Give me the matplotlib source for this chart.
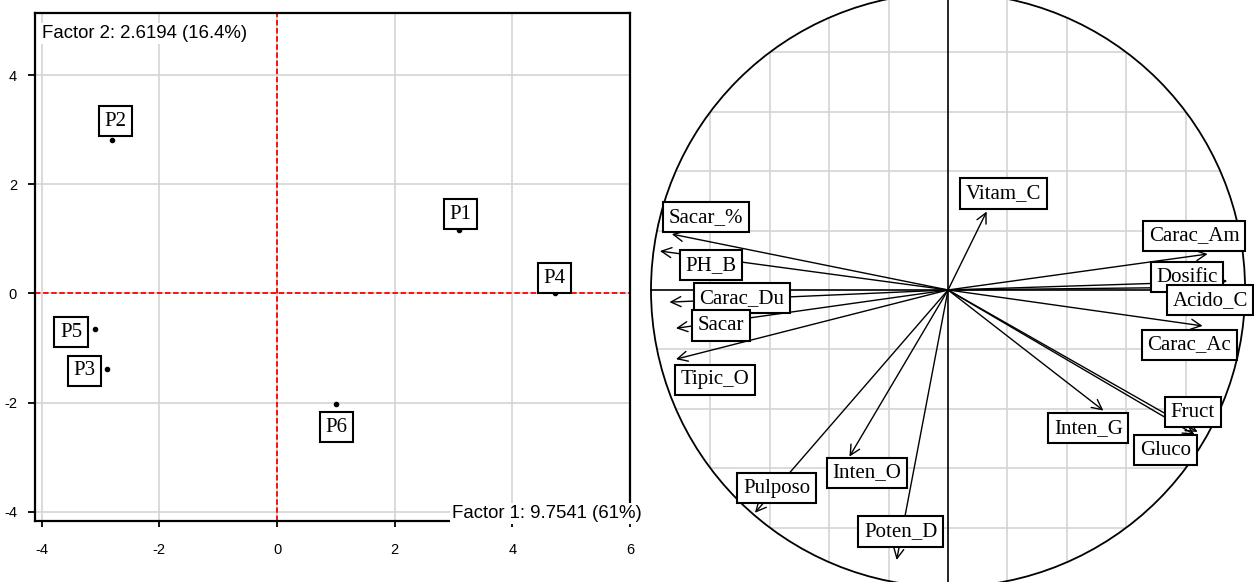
import matplotlib
matplotlib.use('Agg')
import matplotlib.pyplot as plt
import numpy as np
from matplotlib.patches import Circle

plt.rcParams['axes.unicode_minus'] = False

# factor scores of the products
products = ['P1', 'P2', 'P3', 'P4', 'P5', 'P6']
f1_scores = [3.10, -2.81, -2.89, 4.72, -3.10, 1.01]
f2_scores = [1.17, 2.81, -1.39, 0.01, -0.66, -2.02]

# correlations of the variables with factor 1 / factor 2
variables = ['Vitam_C', 'Sacar_%', 'PH_B', 'Carac_Du', 'Sacar', 'Tipic_O',
             'Carac_Am', 'Dosific', 'Acido_C', 'Carac_Ac', 'Inten_G',
             'Fruct', 'Gluco', 'Pulposo', 'Inten_O', 'Poten_D']
corr_f1 = [0.130, -0.930, -0.970, -0.938, -0.916, -0.916,
           0.874, 0.940, 0.950, 0.857, 0.523,
           0.840, 0.830, -0.650, -0.332, -0.173]
corr_f2 = [0.264, 0.188, 0.131, -0.041, -0.129, -0.233,
           0.121, 0.030, 0.010, -0.121, -0.406,
           -0.478, -0.487, -0.750, -0.561, -0.909]

f1_text = 'Factor 1: 9.7541 (61%)'
f2_text = 'Factor 2: 2.6194 (16.4%)'

# label offsets (points) so the boxes don't sit on top of each other
prod_offsets = {'P1': (1, 11), 'P2': (3, 13.5), 'P3': (-16, -1),
                'P4': (0, 10.5), 'P5': (-17, -2), 'P6': (0, -17)}
var_offsets = {'Vitam_C': (12.3, 12.9), 'Sacar_%': (24.6, 12.1), 'PH_B': (36.9, -10.2),
               'Carac_Du': (52.1, 2.9), 'Sacar': (32.4, 2.0), 'Tipic_O': (27.9, -14.9),
               'Carac_Am': (-9.6, 13.2), 'Dosific': (-28.9, 2.7), 'Acido_C': (-14.5, -9.6),
               'Carac_Ac': (-9.8, -13.7), 'Inten_G': (-10.8, -12.8), 'Fruct': (-3.4, 14.2),
               'Gluco': (-20.9, -11.1), 'Pulposo': (15.5, 17.8), 'Inten_O': (12.4, -11.7),
               'Poten_D': (2.9, 20.5)}

serif = 'Liberation Serif'
sans = 'Liberation Sans'
box = dict(boxstyle='square,pad=0.27', fc='white', ec='black', lw=1.5)
lab_size = 15

fig = plt.figure(figsize=(12.54, 5.82), dpi=100)

# ---- observations plot ----
ax = fig.add_axes([0.0279, 0.1048, 0.4745, 0.8723])
ax.set_xlim(-4.114, 6.0)
ax.set_ylim(-4.17, 5.13)
ax.set_xticks([-4, -2, 0, 2, 4, 6])
ax.set_yticks([-4, -2, 0, 2, 4])
ax.grid(True, color='#d4d4d4', lw=1.2)
ax.set_axisbelow(True)
for s in ax.spines.values():
    s.set_linewidth(1.6)
ax.tick_params(axis='y', direction='out', length=5, width=1.3, pad=8, labelsize=10.5)
ax.tick_params(axis='x', direction='out', length=4, width=1.3, pad=12, labelsize=10.5)
for lab in ax.get_xticklabels() + ax.get_yticklabels():
    lab.set_fontfamily(sans)

ax.axhline(0, color='red', lw=1.3, ls=(0, (3, 1.5)), zorder=1.5)
ax.axvline(0, color='red', lw=1.3, ls=(0, (3, 1.5)), zorder=1.5)

ax.plot(f1_scores, f2_scores, 'o', color='black', ms=3, zorder=3)
for name, x, y in zip(products, f1_scores, f2_scores):
    ax.annotate(name, (x, y), xytext=prod_offsets[name], textcoords='offset points',
                ha='center', va='center', fontsize=lab_size, family=serif, bbox=box, zorder=4)

ax.text(0.012, 0.951, f2_text, transform=ax.transAxes, ha='left', va='baseline',
        fontsize=13.4, family=sans, zorder=5,
        bbox=dict(boxstyle='square,pad=0.1', fc='white', ec='none'))
ax.text(1.0197, 0.006, f1_text, transform=ax.transAxes, ha='right', va='baseline',
        fontsize=13.4, family=sans, zorder=5, clip_on=False,
        bbox=dict(boxstyle='square,pad=0.1', fc='white', ec='none'))

# ---- correlation circle ----
ax2 = fig.add_axes([0.5144, 0.0, 0.4856, 1.0])
ax2.set_xlim(-1.020, 1.030)
ax2.set_ylim(-0.983, 0.976)
for s in ax2.spines.values():
    s.set_visible(False)
ax2.set_xticks([])
ax2.set_yticks([])

circle = Circle((0, 0), 1.0, fill=False, ec='black', lw=1.3, zorder=2)
ax2.add_patch(circle)
clip = Circle((0, 0), 1.0, transform=ax2.transData)

grid_vals = np.arange(-0.8, 0.81, 0.2)
for g in grid_vals:
    if abs(g) < 1e-9:
        continue
    l1, = ax2.plot([g, g], [-1, 1], color='#d4d4d4', lw=1.2, zorder=1)
    l2, = ax2.plot([-1, 1], [g, g], color='#d4d4d4', lw=1.2, zorder=1)
    l1.set_clip_path(clip)
    l2.set_clip_path(clip)

ax2.plot([0, 0], [-1, 1], color='black', lw=1.2, zorder=2)
ax2.plot([-1, 1], [0, 0], color='black', lw=1.2, zorder=2)

for name, x, y in zip(variables, corr_f1, corr_f2):
    ax2.annotate('', xy=(x, y), xytext=(0, 0),
                 arrowprops=dict(arrowstyle='->', lw=1.0, color='black',
                                 mutation_scale=18, shrinkA=0, shrinkB=0),
                 zorder=3)
for name, x, y in zip(variables, corr_f1, corr_f2):
    ax2.annotate(name, (x, y), xytext=var_offsets[name], textcoords='offset points',
                 ha='center', va='center', fontsize=lab_size, family=serif, bbox=box,
                 zorder=4, annotation_clip=False)

plt.savefig('out.png', dpi=100)
plt.close()
